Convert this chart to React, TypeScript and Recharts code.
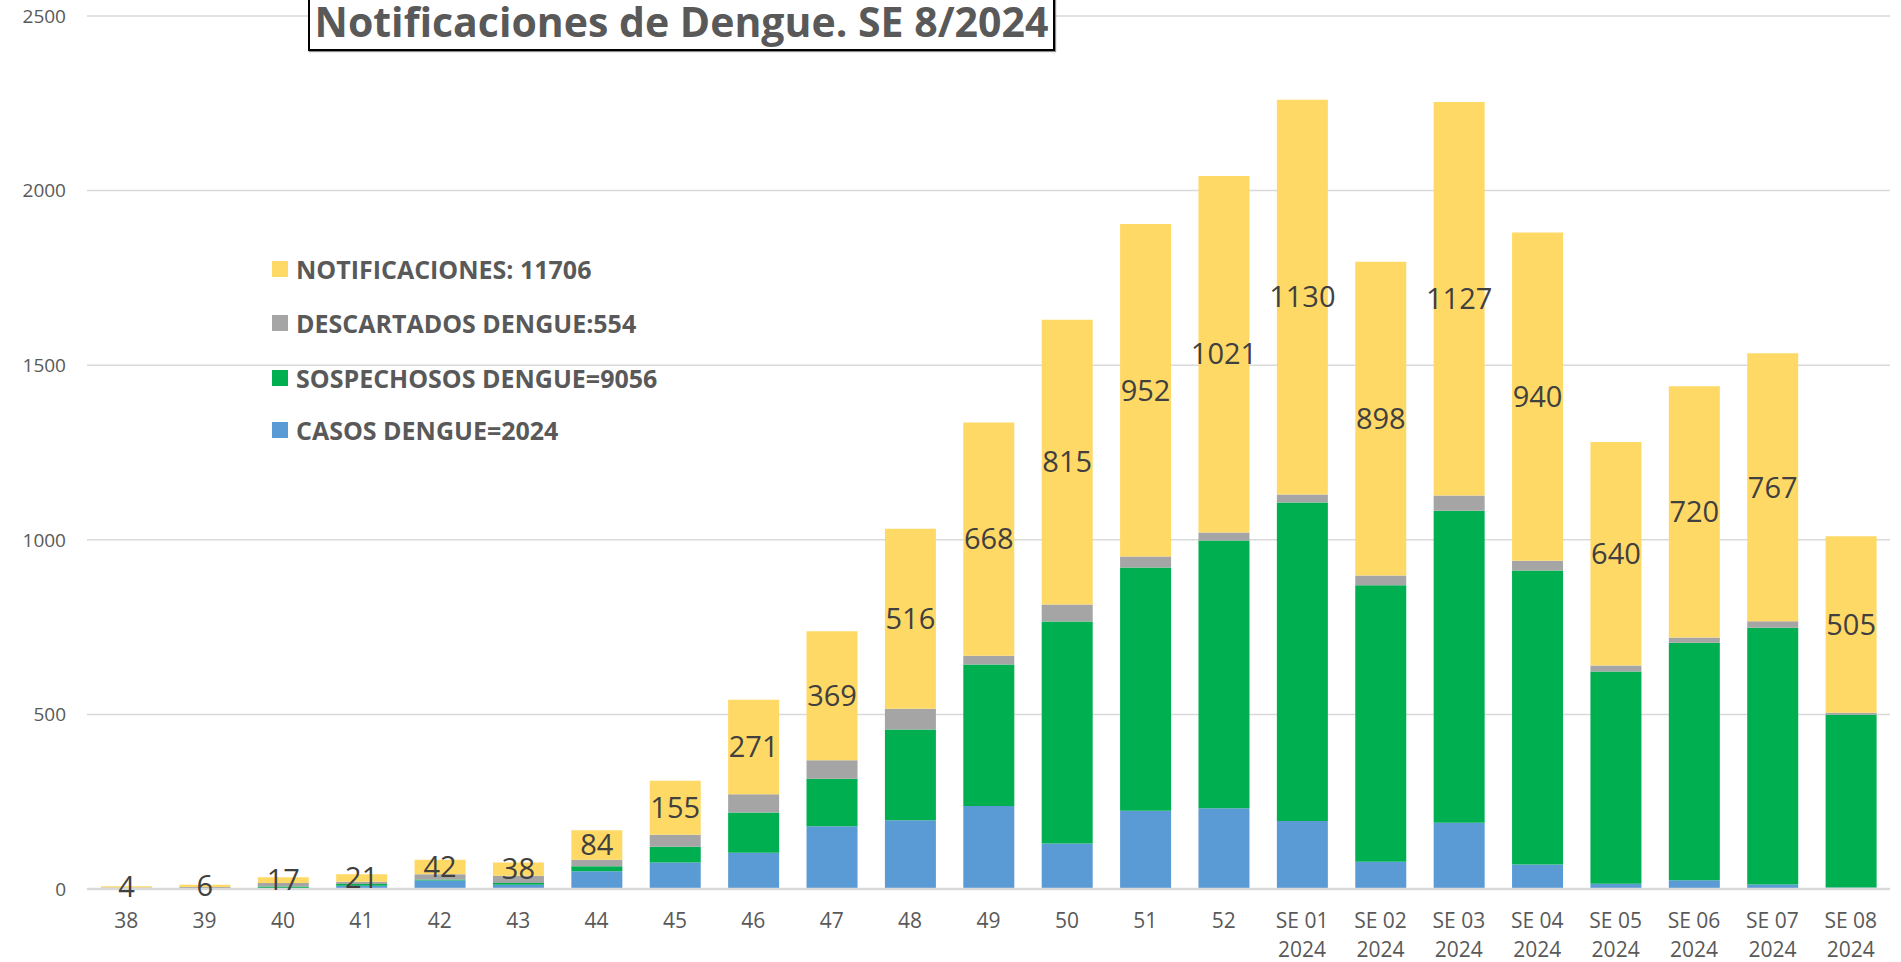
import React from 'react';
import { BarChart, Bar, XAxis, YAxis, CartesianGrid, LabelList } from 'recharts';

const categories = [
  '38', '39', '40', '41', '42', '43', '44', '45', '46', '47', '48', '49', '50', '51', '52',
  'SE 01\n2024', 'SE 02\n2024', 'SE 03\n2024', 'SE 04\n2024', 'SE 05\n2024', 'SE 06\n2024', 'SE 07\n2024', 'SE 08\n2024',
];
const casos = [0, 0, 3, 9, 24, 12, 51, 76, 104, 180, 197, 238, 130, 224, 231, 195, 78, 190, 70, 15, 25, 13, 4];
const sospechosos = [2, 2, 4, 5, 3, 5, 14, 45, 115, 136, 260, 405, 636, 697, 767, 912, 792, 893, 842, 608, 680, 735, 495];
const descartados = [2, 4, 10, 7, 15, 21, 19, 34, 52, 53, 59, 25, 49, 31, 23, 23, 28, 44, 28, 17, 15, 19, 6];
const notificaciones = [4, 6, 17, 21, 42, 38, 84, 155, 271, 369, 516, 668, 815, 952, 1021, 1130, 898, 1127, 940, 640, 720, 767, 505];
const yTicks = [0, 500, 1000, 1500, 2000, 2500];

const title = 'Notificaciones de Dengue. SE 8/2024';
const legendLabels = [
  'NOTIFICACIONES: 11706',
  'DESCARTADOS DENGUE:554',
  'SOSPECHOSOS DENGUE=9056',
  'CASOS DENGUE=2024',
];
const legendColors = ['#FFD966', '#A5A5A5', '#00B050', '#5B9BD5'];

const FONT = '"Open Sans", "Noto Sans", sans-serif';
const TEXT = '#595959';

const data = categories.map((c, i) => ({
  cat: c,
  casos: casos[i],
  sospechosos: sospechosos[i],
  descartados: descartados[i],
  notificaciones: notificaciones[i],
}));

const XTick = (props: any) => {
  const { x, y, payload } = props;
  const lines = String(payload.value).split('\n');
  return (
    <g transform={`translate(${x},${y})`}>
      {lines.map((l: string, i: number) => (
        <text key={i} x={0} y={39 + i * 29} textAnchor="middle" fill={TEXT} fontFamily={FONT} fontSize={21}>
          {l}
        </text>
      ))}
    </g>
  );
};

export default function App() {
  return (
    <div style={{ position: 'absolute', left: 0, top: 0, width: 1901, height: 962, background: '#fff', overflow: 'hidden' }}>
      <BarChart
        width={1901}
        height={962}
        data={data}
        margin={{ top: 16, right: 11, bottom: 0, left: 0 }}
        barSize={51}
      >
        <CartesianGrid horizontal vertical={false} stroke="#D9D9D9" strokeWidth={1.5} />
        <XAxis
          dataKey="cat"
          interval={0}
          height={73}
          tickLine={false}
          tickSize={0}
          tickMargin={0}
          axisLine={{ stroke: '#D9D9D9', strokeWidth: 2.5 }}
          tick={<XTick />}
        />
        <YAxis
          width={87}
          domain={[0, 2500]}
          ticks={yTicks}
          axisLine={false}
          tickLine={false}
          tickSize={0}
          tickMargin={21}
          tick={{ fill: TEXT, fontFamily: FONT, fontSize: 19 }}
        />
        <Bar dataKey="casos" stackId="a" fill="#5B9BD5" isAnimationActive={false} />
        <Bar dataKey="sospechosos" stackId="a" fill="#00B050" isAnimationActive={false} />
        <Bar dataKey="descartados" stackId="a" fill="#A5A5A5" isAnimationActive={false} />
        <Bar dataKey="notificaciones" stackId="a" fill="#FFD966" isAnimationActive={false}>
          <LabelList
            dataKey="notificaciones"
            position="center"
            fill="#404040"
            fontFamily={FONT}
            fontSize={29}
          />
        </Bar>
      </BarChart>

      <div
        style={{
          position: 'absolute',
          left: 308,
          top: -10,
          width: 747,
          height: 61,
          boxSizing: 'border-box',
          border: '2px solid #000',
          boxShadow: '1px 1px 1px rgba(0,0,0,0.45)',
          background: '#fff',
          textAlign: 'center',
          fontFamily: FONT,
          fontWeight: 700,
          fontSize: 41,
          lineHeight: '40px',
          color: TEXT,
          whiteSpace: 'nowrap',
        }}
      >
        <div style={{ marginTop: 9 }}>{title}</div>
      </div>

      <div style={{ position: 'absolute', left: 272, top: 0 }}>
        {legendLabels.map((l, i) => (
          <div
            key={l}
            style={{
              position: 'absolute',
              left: 0,
              top: [269, 323, 378, 430][i] - 15,
              height: 30,
              display: 'flex',
              alignItems: 'center',
              whiteSpace: 'nowrap',
            }}
          >
            <span style={{ display: 'inline-block', width: 16, height: 16, background: legendColors[i], marginRight: 8 }} />
            <span style={{ fontFamily: FONT, fontWeight: 700, fontSize: 25, color: TEXT }}>{l}</span>
          </div>
        ))}
      </div>
    </div>
  );
}
